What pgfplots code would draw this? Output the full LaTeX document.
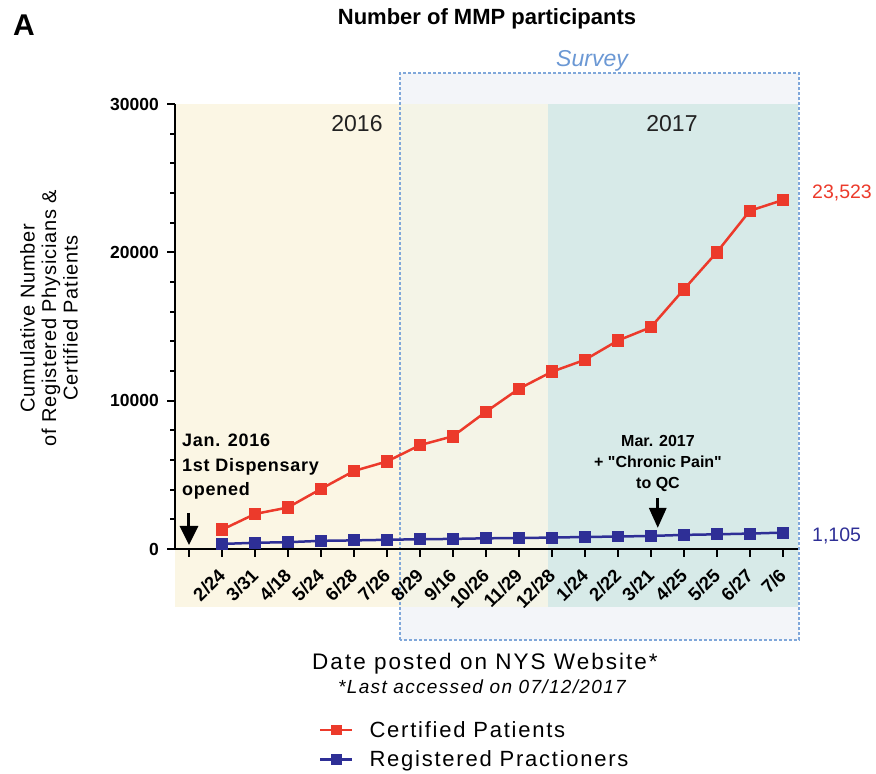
\documentclass[border=0pt]{standalone}
\usepackage{fontspec}
\setmainfont{Liberation Sans}
\usepackage{pgfplots}
\pgfplotsset{compat=1.18}
\usetikzlibrary{arrows.meta}
\definecolor{cpred}{HTML}{EC3A2B}
\definecolor{rpblue}{HTML}{2E2F96}
\definecolor{yelA}{HTML}{FBF6E4}
\definecolor{yelB}{HTML}{F4F4E7}
\definecolor{tealc}{HTML}{D7EAE8}
\definecolor{surveyfill}{HTML}{F3F5F9}
\definecolor{surveyline}{HTML}{7FA7DA}
\definecolor{surveytext}{HTML}{6B98D4}
\definecolor{darktext}{HTML}{222222}
\newcommand{\fs}[2]{\fontsize{#1}{#2}\selectfont}

\begin{document}
\begin{tikzpicture}
\begin{axis}[
  set layers,
  at={(175pt,225pt)}, anchor=south west,
  scale only axis, width=622.8pt, height=445pt,
  xmin=-0.424, xmax=18.455, ymin=0, ymax=30000,
  axis x line=bottom, axis y line=left,
  axis line style={-, line width=2.2pt, black},
  xtick={0,...,18},
  xticklabels={{},2/24,3/31,4/18,5/24,6/28,7/26,8/29,9/16,10/26,11/29,12/28,1/24,2/22,3/21,4/25,5/25,6/27,7/6},
  ytick={0,10000,20000,30000}, minor y tick num=4,
  scaled y ticks=false,
  tick align=outside, major tick length=8pt, minor tick length=5pt,
  every tick/.style={black, line width=2pt},
  yticklabel style={font=\bfseries\fs{17.5}{20}, /pgf/number format/assume math mode=true, /pgf/number format/1000 sep={}, inner sep=0pt, xshift=-8pt},
  xticklabel style={rotate=45, anchor=east, font=\bfseries\fs{18.5}{20}, inner sep=0pt},
  xticklabel shift=15pt,
  clip=false,
  legend style={at={(axis description cs:0.231,-0.44)}, anchor=west, draw=none, fill=none,
    font=\fs{22}{25}\addfontfeatures{LetterSpace=8}, row sep=8pt, inner sep=0pt,
    nodes={inner sep=2pt}},
  legend cell align=left,
  legend image code/.code={\draw[mark repeat=2,mark phase=2,#1, mark size=4pt] plot coordinates {(0pt,0pt) (16pt,0pt) (32pt,0pt)}; \path (46pt,0pt);},
]
\begin{pgfonlayer}{axis background}
\fill[surveyfill] (axis cs:6.394,-6135) rectangle (axis cs:18.485,32090);
\fill[yelA] (axis cs:-0.424,-3910) rectangle (axis cs:6.394,30000);
\fill[yelB] (axis cs:6.394,-3910) rectangle (axis cs:10.879,30000);
\fill[tealc] (axis cs:10.879,-3910) rectangle (axis cs:18.455,30000);
\draw[surveyline, line width=1.5pt, dash pattern=on 3pt off 2pt] (axis cs:6.394,-6135) rectangle (axis cs:18.485,32090);
\end{pgfonlayer}

\addplot[color=cpred, line width=2.5pt, mark=square*, mark size=5pt, mark options={solid}] coordinates {
(1,1300) (2,2360) (3,2800) (4,4050) (5,5260) (6,5900) (7,7000) (8,7600) (9,9250)
(10,10800) (11,11950) (12,12750) (13,14050) (14,14950) (15,17500) (16,20000) (17,22800) (18,23523)};
\addlegendentry{Certified Patients}
\addplot[color=rpblue, line width=2.5pt, mark=square*, mark size=4.7pt, mark options={solid}] coordinates {
(1,340) (2,420) (3,460) (4,550) (5,580) (6,620) (7,660) (8,680) (9,720)
(10,740) (11,770) (12,810) (13,840) (14,880) (15,950) (16,990) (17,1040) (18,1105)};
\addlegendentry{Registered Practioners}

\draw[-{Triangle[width=18pt,length=19pt]}, line width=3pt] (axis cs:0,2430) -- (axis cs:0,270);
\draw[-{Triangle[width=17pt,length=20pt]}, line width=3pt] (axis cs:14.21,3440) -- (axis cs:14.21,1420);
\end{axis}

\begin{scope}[x=1pt, y=-1pt, yshift=774pt]
\node[font=\bfseries\fs{30}{34}] at (24,25) {A};
\node[font=\bfseries\fs{22}{26}] at (487,19) {Number of MMP participants};
\node[font=\itshape\fs{23}{26}, text=surveytext] at (592,61) {Survey};
\node[font=\fs{23}{26}, text=darktext] at (357,124) {2016};
\node[font=\fs{23}{26}, text=darktext] at (672,124) {2017};
\node[rotate=90, align=center, font=\fs{20}{21.5}\addfontfeatures{LetterSpace=4}] at (49,318) {Cumulative Number\\of Registered Physicians \&\\Certified Patients};
\node[anchor=north west, align=left, font=\bfseries\fs{18}{24.5}\addfontfeatures{LetterSpace=4}, inner sep=0pt] at (182,434) {Jan. 2016\\1st Dispensary\\opened};
\node[anchor=north, align=center, font=\bfseries\fs{16}{21}\addfontfeatures{Ligatures=TeXOff}, inner sep=0pt] at (658,435) {Mar. 2017\\+ "Chronic Pain"\\to QC};
\node[anchor=west, text=cpred, font=\fs{19.5}{22}, inner sep=0pt] at (812,193) {23,523};
\node[anchor=west, text=rpblue, font=\fs{19.5}{22}, inner sep=0pt] at (812,536) {1,105};
\node[font=\fs{22.5}{26}\addfontfeatures{LetterSpace=9}] at (485,664) {Date posted on NYS Website*};
\node[font=\itshape\fs{19}{22}\addfontfeatures{LetterSpace=7}] at (482,687) {*Last accessed on 07/12/2017};
\end{scope}
\pgfresetboundingbox
\path[use as bounding box] (0,0) rectangle (876pt,774pt);
\end{tikzpicture}
\end{document}
